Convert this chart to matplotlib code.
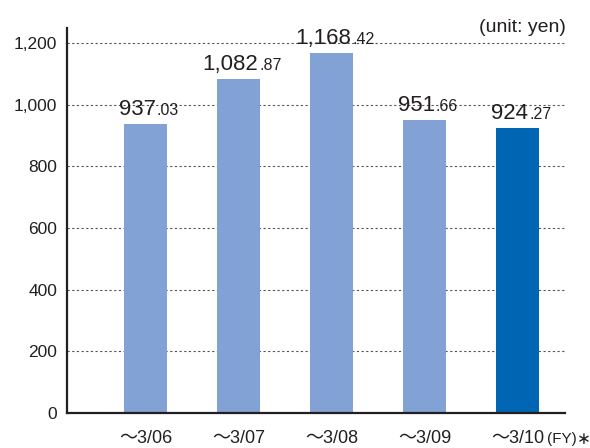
import matplotlib

matplotlib.use("Agg")
import matplotlib.pyplot as plt
from matplotlib import transforms

plt.rcParams["font.family"] = ["Liberation Sans", "Noto Sans CJK JP", "DejaVu Sans"]

LIGHT = "#82a2d6"
DARK = "#0066b3"
INK = "#231f20"
GRID = "#555555"

periods = ["～3/06", "～3/07", "～3/08", "～3/09", "～3/10"]
values = [937.03, 1082.87, 1168.42, 951.66, 924.27]
colors = [LIGHT, LIGHT, LIGHT, LIGHT, DARK]
yticks = [0, 200, 400, 600, 800, 1000, 1200]

fig = plt.figure(figsize=(5.9, 4.48), dpi=100)
ax = fig.add_axes([67 / 590, 35 / 448, 498 / 590, 385 / 448])

x = list(range(len(values)))
ax.bar(x, values, width=0.46, color=colors, zorder=2)

ax.set_xlim(-0.844, 4.51)
ax.set_ylim(0, 1249)
ax.set_yticks(yticks)
ax.set_yticklabels([f"{v:,}" for v in yticks])
ax.set_xticks(x)
ax.set_xticklabels(periods)
ax.tick_params(axis="both", length=0, colors=INK)
ax.tick_params(axis="y", pad=7, labelsize=12.5)
ax.tick_params(axis="x", pad=12, labelsize=13)

for v in yticks[1:]:
    ax.axhline(v, color=GRID, linewidth=0.8, linestyle=(0, (2, 2.2)), zorder=1)

for side in ("top", "right"):
    ax.spines[side].set_visible(False)
for side in ("left", "bottom"):
    ax.spines[side].set_color(INK)
    ax.spines[side].set_linewidth(1.6)

fig.text(566 / 590, 1 - 27 / 448, "(unit: yen)", ha="right", va="center",
         fontsize=14, color=INK, family=["Liberation Sans", "DejaVu Sans"])

# value labels: large integer part, small decimal part, centred over each bar
fig.canvas.draw()
renderer = fig.canvas.get_renderer()
for xi, v in zip(x, values):
    whole, frac = f"{v:,.2f}".split(".")
    t1 = ax.text(xi, v, whole, fontsize=16, color=INK, ha="left", va="baseline")
    t2 = ax.text(xi, v, "." + frac, fontsize=11.5, color=INK, ha="left", va="baseline")
    w1 = t1.get_window_extent(renderer).width
    w2 = t2.get_window_extent(renderer).width
    shift = -(w1 + w2) / 2 + 3
    t1.set_transform(transforms.offset_copy(ax.transData, fig, x=shift, y=9, units="dots"))
    t2.set_transform(transforms.offset_copy(ax.transData, fig, x=shift + w1 + 1, y=9, units="dots"))

last = ax.get_xticklabels()[-1]
ax.annotate("(FY)", xy=(1, 0.45), xycoords=last, xytext=(2, 0), textcoords="offset points",
            ha="left", va="center", fontsize=11, color=INK)
fig.canvas.draw()
fy = ax.texts[-1]
ax.annotate("∗", xy=(1, 0.5), xycoords=fy, xytext=(0.5, 0), textcoords="offset points",
            ha="left", va="center", fontsize=12, color=INK,
            family=["DejaVu Sans"])

fig.savefig("out.png", dpi=100)
